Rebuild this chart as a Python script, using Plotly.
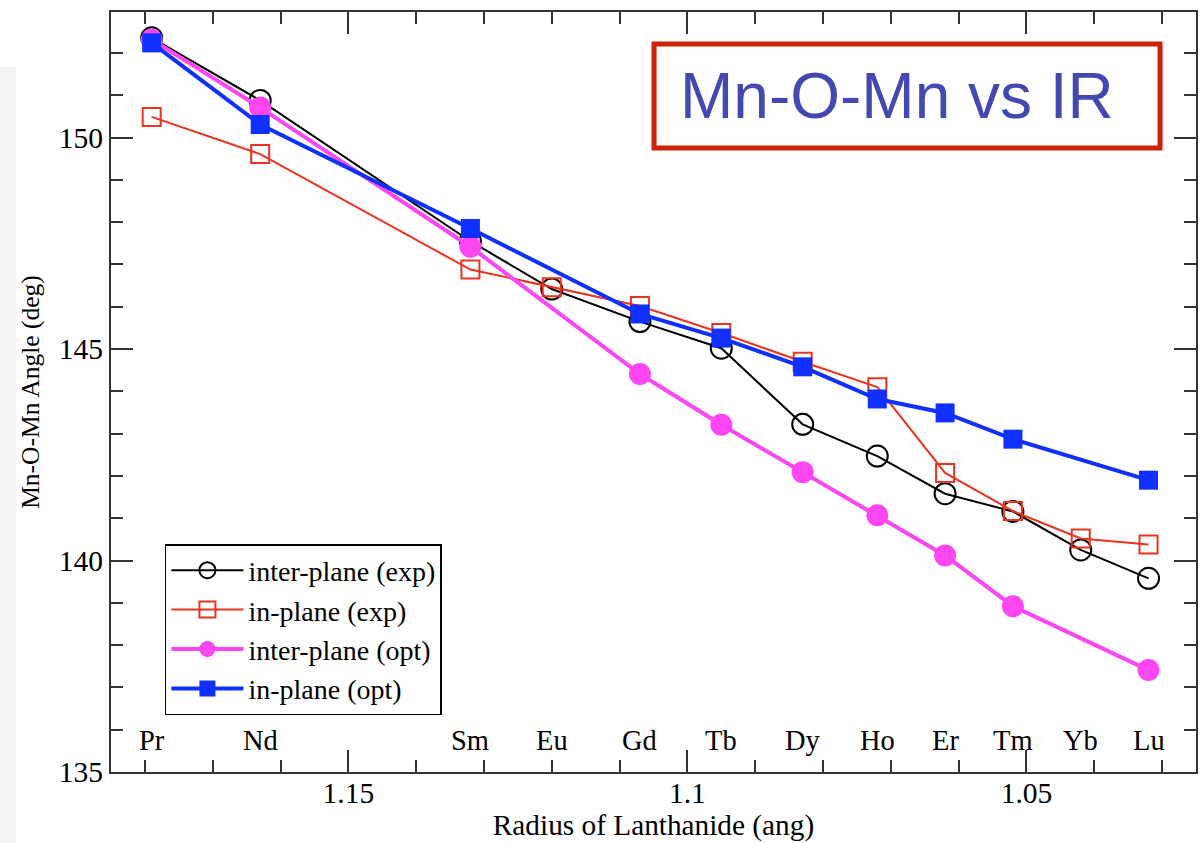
import plotly.graph_objects as go

# Ionic radius (angstrom) of each lanthanide and its symbol
elements = ["Pr", "Nd", "Sm", "Eu", "Gd", "Tb", "Dy", "Ho", "Er", "Tm", "Yb", "Lu"]
radius = [1.179, 1.163, 1.132, 1.120, 1.107, 1.095, 1.083, 1.072, 1.062, 1.052, 1.042, 1.032]

# Mn-O-Mn bond angles (deg); None where no optimised structure exists
inter_exp = [152.36, 150.88, 147.55, 146.42, 145.65, 145.02, 143.22, 142.47, 141.58, 141.16, 140.25, 139.58]
in_exp = [150.49, 149.61, 146.88, 146.46, 146.02, 145.38, 144.70, 144.10, 142.07, 141.17, 140.52, 140.38]
inter_opt = [152.32, 150.71, 147.42, None, 144.41, 143.21, 142.09, 141.07, 140.12, 138.92, None, 137.41]
in_opt = [152.24, 150.31, 147.85, None, 145.83, 145.26, 144.58, 143.82, 143.49, 142.87, None, 141.90]

x_ticks = [1.15, 1.10, 1.05]
x_ticktext = ["1.15", "1.1", "1.05"]
y_ticks = [135, 140, 145, 150]

SERIF = "Liberation Serif, Times New Roman, serif"
SANS = "Liberation Sans, Arial, sans-serif"

fig = go.Figure()

fig.add_trace(go.Scatter(
    x=radius, y=inter_exp, name="inter-plane (exp)", mode="lines+markers",
    line=dict(color="#000000", width=2),
    marker=dict(symbol="circle-open", size=21, color="#000000", line=dict(width=2)),
))
fig.add_trace(go.Scatter(
    x=radius, y=in_exp, name="in-plane (exp)", mode="lines+markers",
    line=dict(color="#ec3320", width=2),
    marker=dict(symbol="square-open", size=18, color="#ec3320", line=dict(width=2)),
))
fig.add_trace(go.Scatter(
    x=radius, y=inter_opt, name="inter-plane (opt)", mode="lines+markers", connectgaps=True,
    line=dict(color="#fb46f2", width=4),
    marker=dict(symbol="circle", size=22, color="#fb46f2"),
))
fig.add_trace(go.Scatter(
    x=radius, y=in_opt, name="in-plane (opt)", mode="lines+markers", connectgaps=True,
    line=dict(color="#1030ff", width=4),
    marker=dict(symbol="square", size=19, color="#1030ff"),
))

# Element symbols written just above the bottom axis
for el, r in zip(elements, radius):
    fig.add_annotation(
        x=r, xref="x", y=0.042, yref="paper", text=el, showarrow=False,
        font=dict(family=SERIF, size=28.5, color="#000000"), yanchor="middle",
    )

# Boxed heading in the upper right
fig.add_shape(
    type="rect", xref="paper", yref="paper", x0=0.5005, x1=0.9669, y0=0.821, y1=0.958,
    line=dict(color="#cc2208", width=5), fillcolor="#ffffff", layer="above",
)
fig.add_annotation(
    x=0.7246, xref="paper", y=0.889, yref="paper", text="Mn-O-Mn vs IR", showarrow=False,
    font=dict(family=SANS, size=64, color="#4349b0"), xanchor="center", yanchor="middle",
)

# Faint grey strip along the left page edge
fig.add_shape(
    type="rect", xref="paper", yref="paper", x0=-0.1021, x1=-0.0874, y0=-0.0934, y1=0.9276,
    line=dict(width=0), fillcolor="#f3f3f3", layer="below",
)

axis_common = dict(
    showline=True, linecolor="#333333", linewidth=2, mirror="ticks",
    ticks="inside", tickcolor="#333333", tickwidth=2, ticklen=22,
    showgrid=False, zeroline=False,
    tickfont=dict(family=SERIF, size=29.5, color="#000000"),
)

fig.update_xaxes(
    **axis_common,
    range=[1.185, 1.025],
    tickvals=x_ticks, ticktext=x_ticktext,
    ticklabelstandoff=-6,
    minor=dict(ticks="inside", ticklen=12, tickwidth=2, tickcolor="#333333", dtick=0.01, tick0=1.0),
    title=dict(text="Radius of Lanthanide (ang)", font=dict(family=SERIF, size=29.3, color="#000000"), standoff=0),
)
fig.update_yaxes(
    **axis_common,
    range=[135, 152.97],
    tickvals=y_ticks,
    minor=dict(ticks="inside", ticklen=12, tickwidth=2, tickcolor="#333333", dtick=1, tick0=135),
    title=dict(text="Mn-O-Mn Angle (deg)", font=dict(family=SERIF, size=25.5, color="#000000"), standoff=12),
)

fig.update_layout(
    width=1203, height=843,
    margin=dict(l=111, r=5, t=12, b=71),
    paper_bgcolor="#ffffff", plot_bgcolor="#ffffff",
    showlegend=True,
    legend=dict(
        x=0.0497, y=0.30, xanchor="left", yanchor="top",
        bgcolor="#ffffff", bordercolor="#000000", borderwidth=1.5,
        font=dict(family=SERIF, size=28, color="#000000"),
        itemwidth=72, tracegroupgap=0,
    ),
)

fig.write_html("out.html")
